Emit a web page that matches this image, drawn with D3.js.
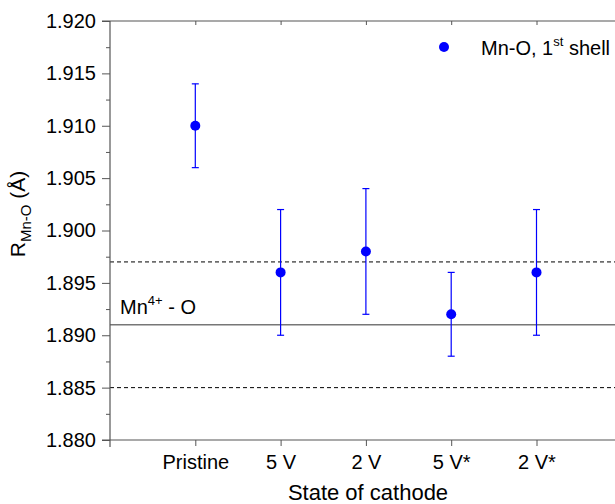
<!DOCTYPE html>
<html>
<head>
<meta charset="utf-8">
<script src="https://cdn.jsdelivr.net/npm/d3@7"></script>
<style>
  body { margin: 0; background: #fff; }
  svg { font-family: Arial, "Liberation Sans", sans-serif; }
</style>
</head>
<body>
<svg id="chart" width="615" height="504"></svg>
<script>
const categories = ["Pristine", "5 V", "2 V", "5 V*", "2 V*"];
const rValues = [1.910, 1.896, 1.898, 1.892, 1.896];
const rLow = [1.906, 1.890, 1.892, 1.888, 1.890];
const rHigh = [1.914, 1.902, 1.904, 1.896, 1.902];
const yTicks = [1.880, 1.885, 1.890, 1.895, 1.900, 1.905, 1.910, 1.915, 1.920];
const refSolid = 1.891;
const refDashed = [1.897, 1.885];

const svg = d3.select("#chart");
const plotLeft = 110, plotTop = 21, plotBottom = 440;
const step = 85.3;
const font = "Arial, 'Liberation Sans', sans-serif";

const x = d3.scaleLinear().domain([0, 6]).range([plotLeft, plotLeft + 6 * step]);
const y = d3.scaleLinear().domain([1.880, 1.920]).range([plotBottom, plotTop]);
const axisColor = "#555";

// reference lines
svg.selectAll(".dash")
    .data(refDashed)
    .enter()
    .append("line")
    .attr("x1", plotLeft).attr("x2", 615)
    .attr("y1", d => y(d)).attr("y2", d => y(d))
    .attr("stroke", "#000")
    .attr("stroke-width", 1)
    .attr("stroke-dasharray", "4,3");

svg.append("line")
    .attr("x1", plotLeft).attr("x2", 615)
    .attr("y1", y(refSolid)).attr("y2", y(refSolid))
    .attr("stroke", "#777")
    .attr("stroke-width", 1.5);

const mnLabel = svg.append("text")
    .attr("x", 120).attr("y", y(refSolid) - 11)
    .attr("font-size", 20);
mnLabel.append("tspan").text("Mn");
mnLabel.append("tspan").attr("font-size", 13).attr("dy", -9).text("4+");
mnLabel.append("tspan").attr("dy", 9).text(" - O");

// y axis with minor ticks
const minor = d3.range(0, 8).map(i => 1.8825 + i * 0.005);
svg.append("g")
    .attr("transform", `translate(${plotLeft},0)`)
    .call(d3.axisLeft(y).tickValues(minor).tickSize(4).tickFormat(""))
    .call(g => g.select(".domain").remove())
    .call(g => g.selectAll("line").attr("stroke", axisColor));

svg.append("g")
    .attr("transform", `translate(${plotLeft},0)`)
    .call(d3.axisLeft(y).tickValues(yTicks).tickSize(8).tickSizeOuter(0).tickPadding(6).tickFormat(d3.format(".3f")))
    .call(g => g.select(".domain").remove())
    .call(g => g.selectAll("line").attr("stroke", axisColor))
    .call(g => g.selectAll("text").attr("font-size", 20).attr("fill", "#000").style("font-family", font));

svg.append("line")
    .attr("x1", plotLeft).attr("x2", plotLeft)
    .attr("y1", plotTop).attr("y2", plotBottom + 7)
    .attr("stroke", axisColor).attr("stroke-width", 1.2);

// bottom and top frame
svg.append("line")
    .attr("x1", plotLeft - 8).attr("x2", 615)
    .attr("y1", plotBottom).attr("y2", plotBottom)
    .attr("stroke", axisColor).attr("stroke-width", 1.2);
svg.append("line")
    .attr("x1", plotLeft - 8).attr("x2", 615)
    .attr("y1", plotTop).attr("y2", plotTop)
    .attr("stroke", axisColor).attr("stroke-width", 1.2);

svg.append("g")
    .attr("transform", `translate(0,${plotBottom})`)
    .call(d3.axisBottom(x).tickValues([1, 2, 3, 4, 5]).tickSize(6).tickPadding(9)
        .tickFormat(d => categories[d - 1]))
    .call(g => g.select(".domain").remove())
    .call(g => g.selectAll("line").attr("stroke", axisColor))
    .call(g => g.selectAll("text").attr("font-size", 20).attr("fill", "#000").style("font-family", font));

// top ticks (inward)
svg.append("g")
    .attr("transform", `translate(0,${plotTop})`)
    .call(d3.axisBottom(x).tickValues([1, 2, 3, 4, 5]).tickSize(4).tickFormat(""))
    .call(g => g.select(".domain").remove())
    .call(g => g.selectAll("line").attr("stroke", axisColor));

// axis titles
svg.append("text")
    .attr("x", 368).attr("y", 500)
    .attr("text-anchor", "middle")
    .attr("font-size", 22)
    .text("State of cathode");

const yt = svg.append("text")
    .attr("transform", `translate(25,214) rotate(-90)`)
    .attr("text-anchor", "middle")
    .attr("font-size", 21);
yt.append("tspan").text("R");
yt.append("tspan").attr("font-size", 15).attr("dy", 6).text("Mn-O");
yt.append("tspan").attr("dy", -6).text(" (Å)");

// error bars and points
const data = categories.map((c, i) => ({ i: i + 1, v: rValues[i], lo: rLow[i], hi: rHigh[i] }));
const blue = "#0000ff";
const pts = svg.append("g");
pts.selectAll(".eb")
    .data(data)
    .enter()
    .append("line")
    .attr("x1", d => x(d.i)).attr("x2", d => x(d.i))
    .attr("y1", d => y(d.lo)).attr("y2", d => y(d.hi))
    .attr("stroke", blue).attr("stroke-width", 1.2);
["lo", "hi"].forEach(k => {
    pts.selectAll(".cap-" + k)
        .data(data)
        .enter()
        .append("line")
        .attr("x1", d => x(d.i) - 3.5).attr("x2", d => x(d.i) + 3.5)
        .attr("y1", d => y(d[k])).attr("y2", d => y(d[k]))
        .attr("stroke", blue).attr("stroke-width", 1.2);
});
pts.selectAll("circle")
    .data(data)
    .enter()
    .append("circle")
    .attr("cx", d => x(d.i)).attr("cy", d => y(d.v))
    .attr("r", 5)
    .attr("fill", blue);

// legend
svg.append("circle").attr("cx", 444).attr("cy", 47).attr("r", 5).attr("fill", blue);
const lg = svg.append("text").attr("x", 481).attr("y", 55).attr("font-size", 20);
lg.append("tspan").text("Mn-O, 1");
lg.append("tspan").attr("font-size", 13).attr("dy", -9).text("st");
lg.append("tspan").attr("dy", 9).text(" shell");
</script>
</body>
</html>
